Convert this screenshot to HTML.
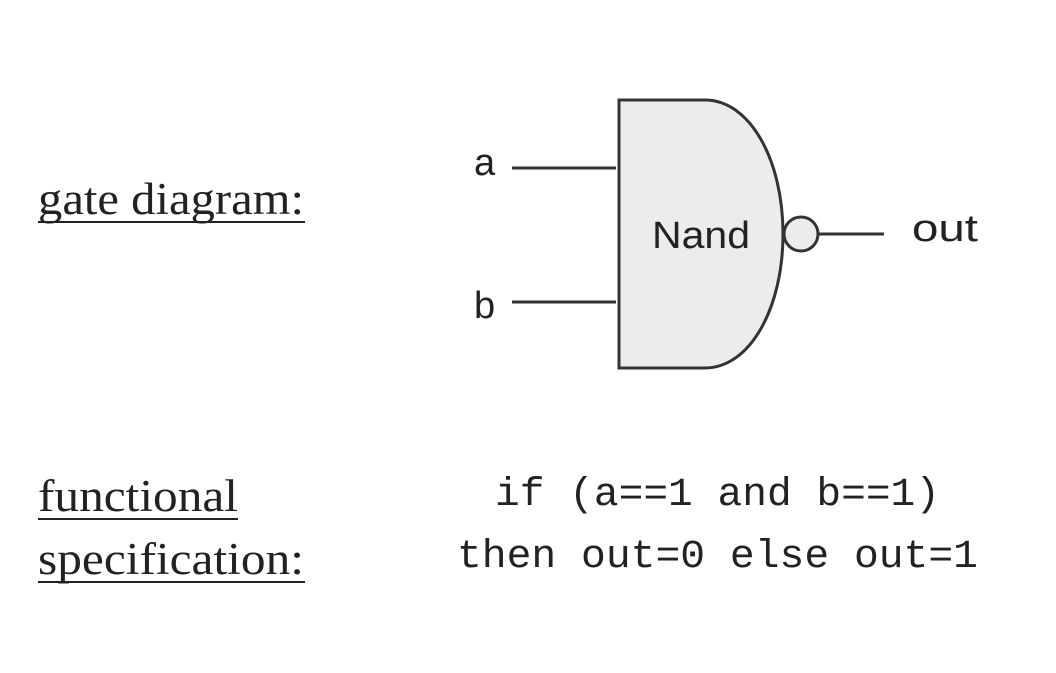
<!DOCTYPE html>
<html><head><style>body{margin:0;background:#fff}svg{display:block}</style></head><body>
<svg width="1056" height="673" viewBox="0 0 1056 673" xmlns="http://www.w3.org/2000/svg">
<rect width="1056" height="673" fill="#fff"/>
<g font-family="Liberation Serif, serif" font-size="45" fill="#222">
<text x="38" y="214" textLength="266" lengthAdjust="spacingAndGlyphs">gate diagram:</text>
<line x1="38" y1="222" x2="305" y2="222" stroke="#222" stroke-width="2"/>
<text x="38" y="511" textLength="200" lengthAdjust="spacingAndGlyphs">functional</text>
<line x1="38" y1="519" x2="238" y2="519" stroke="#222" stroke-width="2"/>
<text x="38" y="574" textLength="266" lengthAdjust="spacingAndGlyphs">specification:</text>
<line x1="38" y1="582" x2="305" y2="582" stroke="#222" stroke-width="2"/>
</g>
<g stroke="#333" stroke-width="3" fill="none">
<line x1="512" y1="168" x2="616" y2="168"/>
<line x1="512" y1="302" x2="616" y2="302"/>
<path d="M619 100 L705 100 C750 100 783 160 783 234 C783 308 750 368 705 368 L619 368 Z" fill="#ececec"/>
<circle cx="801" cy="234" r="17" fill="#ececec"/>
<line x1="818" y1="234" x2="884" y2="234"/>
</g>
<g font-family="Liberation Sans, sans-serif" font-size="38" fill="#222">
<text x="474" y="175">a</text>
<text x="474" y="318">b</text>
<text x="701" y="248" text-anchor="middle" textLength="98" lengthAdjust="spacingAndGlyphs">Nand</text>
<text x="912" y="241" textLength="66" lengthAdjust="spacingAndGlyphs">out</text>
</g>
<g font-family="Liberation Mono, monospace" font-size="40" fill="#222">
<text x="495" y="505" textLength="445" lengthAdjust="spacingAndGlyphs">if (a==1 and b==1)</text>
<text x="457" y="567" textLength="521" lengthAdjust="spacingAndGlyphs">then out=0 else out=1</text>
</g>
</svg>
</body></html>
